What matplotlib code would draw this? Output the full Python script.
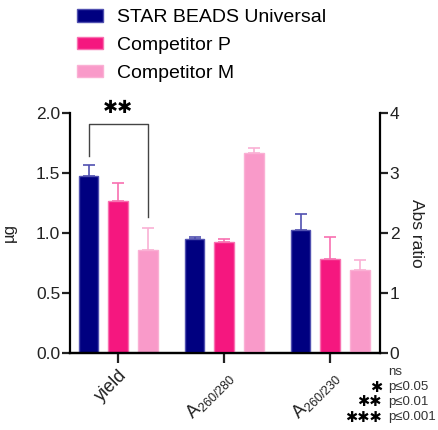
import matplotlib
matplotlib.use("Agg")
import matplotlib.pyplot as plt
import numpy as np
from matplotlib.patches import Patch

plt.rcParams["font.family"] = ["Liberation Sans", "DejaVu Sans"]
plt.rcParams["mathtext.fontset"] = "custom"
plt.rcParams["mathtext.rm"] = "Liberation Sans"

series = ["STAR BEADS Universal", "Competitor P", "Competitor M"]
colors = ["#000080", "#F5177F", "#F99AC9"]
edge_colors = ["#5050B0", "#F870B0", "#FAB0D4"]

categories = ["yield", r"A$_{\mathregular{260/280}}$", r"A$_{\mathregular{260/230}}$"]

# yield in ug (left axis)
yield_mean = [1.475, 1.27, 0.855]
yield_err = [0.095, 0.15, 0.185]
# absorbance ratios (right axis)
ratio_mean = [[1.895, 1.855, 3.33], [2.05, 1.56, 1.39]]
ratio_err = [[0.035, 0.05, 0.09], [0.27, 0.37, 0.165]]

# significance bracket yield: STAR vs Competitor M
bracket_top = 1.91
bracket_left = 1.64
bracket_right = 1.135

fig = plt.figure(figsize=(4.38, 4.30), dpi=100)
ax = fig.add_axes([70 / 438, 77 / 430, 310 / 438, 240 / 430])
ax2 = ax.twinx()

width = 0.185
offsets = [-0.28, 0.0, 0.28]
x = np.arange(len(categories))


def draw_bar(axis, xpos, h, e, i):
    axis.bar(xpos, h, width, color=colors[i], edgecolor=edge_colors[i], linewidth=1, zorder=2)
    axis.errorbar(xpos, h, yerr=[[0], [e]], fmt="none", ecolor=edge_colors[i],
                  elinewidth=1.2, capsize=4, capthick=1.2, zorder=1)


for i in range(3):
    draw_bar(ax, x[0] + offsets[i], yield_mean[i], yield_err[i], i)
    for g in range(2):
        draw_bar(ax2, x[g + 1] + offsets[i], ratio_mean[g][i], ratio_err[g][i], i)

ax.set_xlim(-0.455, 2.47)
ax.set_ylim(0, 2.0)
ax2.set_ylim(0, 4)
ax.set_yticks([0.0, 0.5, 1.0, 1.5, 2.0])
ax.set_yticklabels(["0.0", "0.5", "1.0", "1.5", "2.0"])
ax2.set_yticks([0, 1, 2, 3, 4])
ax.set_xticks(x)
ax.set_xticklabels(categories, rotation=45, ha="right", rotation_mode="anchor", fontsize=13)

for a in (ax, ax2):
    a.spines["top"].set_visible(False)
    for s in ("left", "right", "bottom"):
        a.spines[s].set_linewidth(1.6)
        a.spines[s].set_color("black")
    a.tick_params(axis="both", width=1.6, length=6, labelsize=12.5, colors="#222222")
    a.tick_params(axis="y", pad=1)
ax.tick_params(axis="x", length=7, pad=3, labelsize=13)
ax.spines["right"].set_visible(False)
ax2.spines["left"].set_visible(False)

ax.set_ylabel("µg", fontsize=12, color="#222222", labelpad=14)
ax2.set_ylabel("Abs ratio", fontsize=12.5, color="#222222", rotation=270, labelpad=18)

# bracket
xl = x[0] + offsets[0]
xr = x[0] + offsets[2]
ax.plot([xl, xl, xr, xr], [bracket_left, bracket_top, bracket_top, bracket_right],
        color="#444444", lw=1, clip_on=False, zorder=3)
ax.text((xl + xr) / 2, 2.04, "✱✱", ha="center", va="center", fontsize=13,
        family="DejaVu Sans", color="black", clip_on=False)

handles = [Patch(facecolor=c, edgecolor=e, linewidth=1) for c, e in zip(colors, edge_colors)]
fig.legend(handles, series, loc="upper left", bbox_to_anchor=(77 / 438, 1 - 9 / 430),
           frameon=False, fontsize=14, handlelength=1.35, handleheight=0.62,
           handletextpad=0.72, labelspacing=0.55, borderpad=0, borderaxespad=0)

# significance key
key_stars = ["", "✱", "✱✱", "✱✱✱"]
key_text = ["ns", "p≤0.05", "p≤0.01", "p≤0.001"]
for k, (s, t) in enumerate(zip(key_stars, key_text)):
    yy = 1 - (372 + 15 * k) / 430
    fig.text(388 / 438, yy, t, ha="left", va="center", fontsize=9.5, color="#333333")
    if s:
        fig.text(382 / 438, yy, s, ha="right", va="center", fontsize=10.5,
                 family="DejaVu Sans", color="black")

fig.savefig("out.png", dpi=100)
